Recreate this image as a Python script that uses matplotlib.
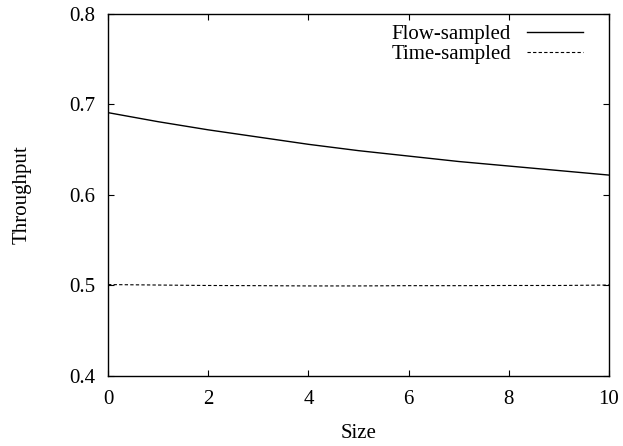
import matplotlib
matplotlib.use("Agg")
import matplotlib.pyplot as plt

plt.rcParams['font.family'] = ['Liberation Serif', 'DejaVu Serif']
plt.rcParams['mathtext.fontset'] = 'stix'

sizes = [0, 1, 2, 3, 4, 5, 6, 7, 8, 9, 10]
flow_sampled = [0.691, 0.681, 0.672, 0.664, 0.656, 0.649, 0.643, 0.637, 0.632, 0.627, 0.622]
time_sampled = [0.501, 0.5005, 0.500, 0.4998, 0.4995, 0.4995, 0.4998, 0.4998, 0.500, 0.500, 0.5005]
xticks = [0, 2, 4, 6, 8, 10]
yticks = [0.4, 0.5, 0.6, 0.7, 0.8]

FS = 15

fig = plt.figure(figsize=(6.23, 4.46), dpi=100)
ax = fig.add_axes([0.1734, 0.157, 0.8041, 0.8116])

ax.plot(sizes, flow_sampled, color='black', lw=1.0, label='Flow-sampled')
ax.plot(sizes, time_sampled, color='black', lw=0.8, dashes=(3, 2), label='Time-sampled')

ax.set_xlim(0, 10)
ax.set_ylim(0.4, 0.8)
ax.set_xticks(xticks)
ax.set_xticklabels([str(t) for t in xticks])
ax.set_yticks(yticks)
ax.set_yticklabels([f"{t:.1f}" for t in yticks])
ax.tick_params(direction='in', top=True, right=True, length=4, width=0.8,
               labelsize=FS, colors='black')
ax.tick_params(axis='x', pad=10)
ax.tick_params(axis='y', pad=9)
for s in ax.spines.values():
    s.set_linewidth(1.0)

ax.set_xlabel('Size', fontsize=FS, labelpad=11)
ax.set_ylabel('Throughput', fontsize=FS, labelpad=27)

leg = ax.legend(loc='upper right', frameon=False, markerfirst=False, fontsize=FS,
                handlelength=2.7, handletextpad=0.75, labelspacing=0.0,
                borderaxespad=0.0, borderpad=0.0, bbox_to_anchor=(0.948, 0.97))
for t in leg.get_texts():
    t.set_ha('right')

fig.savefig('out.png', dpi=100)
